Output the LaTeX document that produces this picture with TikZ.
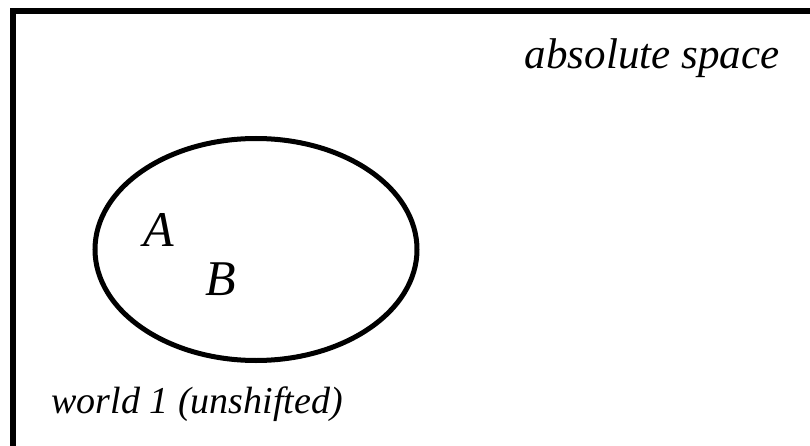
\documentclass[tikz,border=0pt]{standalone}
\usepackage{fontspec}
\setmainfont{Liberation Serif}
\usetikzlibrary{positioning,shapes.geometric}

\begin{document}
\begin{tikzpicture}[
    x=1pt, y=-1pt,
    frame/.style={draw, line width=6pt},
    world/.style={draw, ellipse, line width=5pt, minimum width=322pt, minimum height=222pt, inner sep=0pt},
    lbl/.style={font=\fontsize{43}{50}\selectfont\itshape, inner sep=0pt},
    pt/.style={font=\fontsize{50}{58}\selectfont\itshape, inner sep=0pt}
]
\useasboundingbox (0,0) rectangle (810,446);
\clip (0,0) rectangle (810,446);
\draw[frame] (13,11) rectangle (840,480);
\node[world] (w1) at (256,249.5) {};
\node[lbl] (abs) at (652,58) {absolute space};
\node[pt] (a) at (159,230) {A};
\node[pt] (b) at (221,279) {B};
\node[lbl, font=\fontsize{38}{46}\selectfont\itshape] (name) at (197,404) {world 1 (unshifted)};
\end{tikzpicture}
\end{document}
